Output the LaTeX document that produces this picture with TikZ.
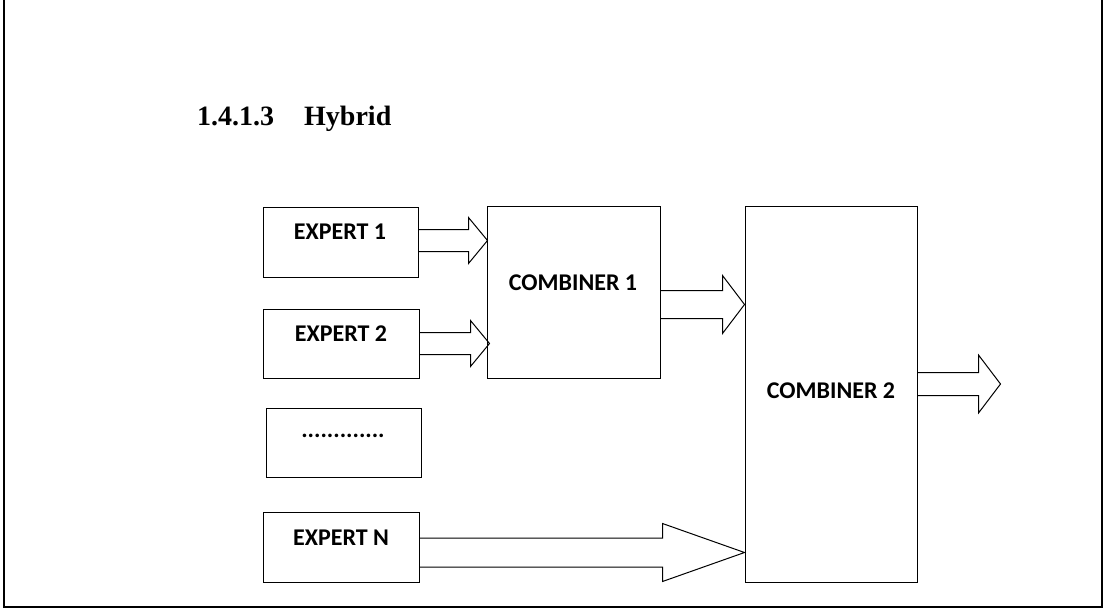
\documentclass[tikz,border=0pt]{standalone}
\usepackage{fontspec}
\setmainfont{Liberation Serif}
\newfontfamily\boxfont{Carlito}
\usetikzlibrary{calc}

% fat hollow arrow: from, to, half shaft, half head, head length
\newcommand{\fatarrow}[5]{%
  \draw [black, line width=1pt] let \p1=(#1), \p2=(#2) in
    (\x1,\y2+#3) -- (\x2-#5,\y2+#3) -- (\x2-#5,\y2+#4) -- (\p2)
    -- (\x2-#5,\y2-#4) -- (\x2-#5,\y2-#3) -- (\x1,\y2-#3);}

\begin{document}
\begin{tikzpicture}[x=1pt,y=-1pt]
    \tikzstyle{block}=[draw=black, line width=1pt, inner sep=0pt]
    \tikzstyle{label}=[font=\boxfont\bfseries\fontsize{24}{28}\selectfont]
    \useasboundingbox (0,0) rectangle (1107,610);
    \draw [black, line width=2pt] (4,0) -- (4,607) -- (1102,607) -- (1102,0);
    \node [anchor=base west, inner sep=0pt, font=\bfseries\fontsize{28}{32}\selectfont] (head) at (197,125) {1.4.1.3\hspace{30pt}Hybrid};
    \node [block, minimum width=155pt, minimum height=70pt] (e1) at (340.5,242) {};
    \node [block, minimum width=156pt, minimum height=69pt] (e2) at (341,343.5) {};
    \node [block, minimum width=155pt, minimum height=69pt] (e3) at (343.5,442.5) {};
    \node [block, minimum width=156pt, minimum height=70pt] (en) at (341,547) {};
    \node [block, minimum width=173pt, minimum height=172pt] (c1) at (573.5,292) {};
    \node [block, minimum width=172pt, minimum height=376pt] (c2) at (831,394) {};
    \node [label] at (340,232) {EXPERT 1};
    \node [label] at (341,334) {EXPERT 2};
    \node [label] at (343,436) {.............};
    \node [label] at (341,538) {EXPERT N};
    \node [label] at (573,283) {COMBINER 1};
    \node [label] at (831,391) {COMBINER 2};
    \fatarrow{e1.east}{$(c1.north west)+(1,35)$}{11}{23}{19}
    \fatarrow{e2.east}{$(c1.north west)+(3,138)$}{11}{23}{19}
    \fatarrow{c1.east}{$(c2.north west)+(0,99)$}{14}{29}{22}
    \fatarrow{en.east}{$(c2.north west)+(0,347)$}{14.5}{29}{82}
    \coordinate (out) at ($(c2.east)+(83,-10)$);
    \fatarrow{c2.east}{out}{11.5}{29}{22}
\end{tikzpicture}
\end{document}
